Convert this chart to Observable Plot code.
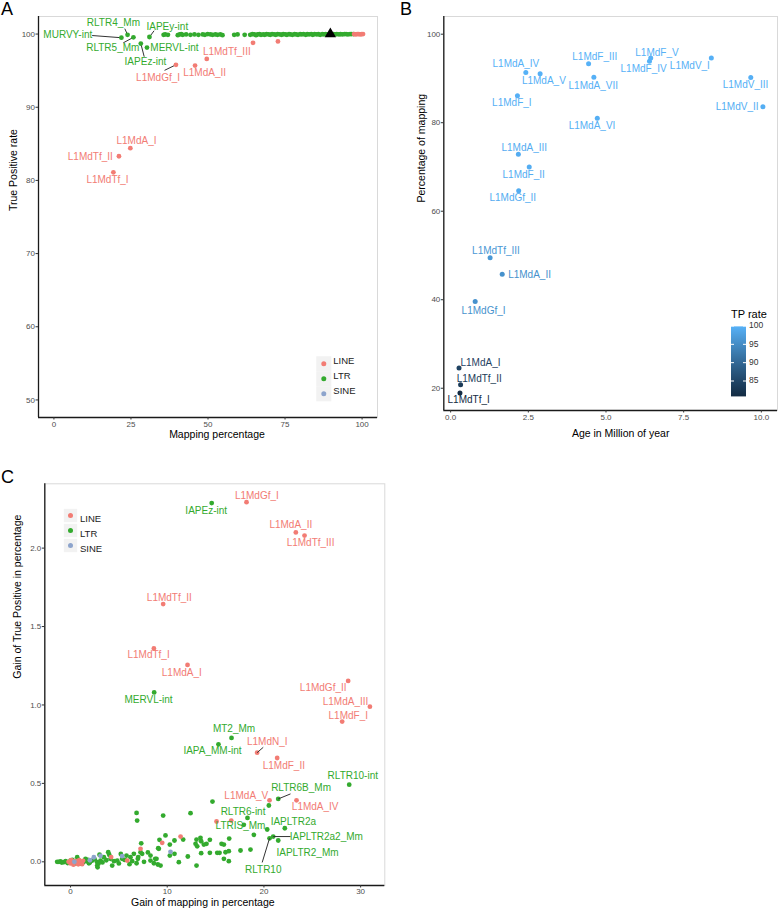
<!DOCTYPE html>
<html><head><meta charset="utf-8">
<script src="https://cdn.jsdelivr.net/npm/d3@7"></script>
<script src="https://cdn.jsdelivr.net/npm/@observablehq/plot@0.6"></script>
<style>
body{margin:0;background:#fff;font-family:"Liberation Sans",Arial,Helvetica,sans-serif;}
#wrap{position:relative;width:778px;height:911px;overflow:hidden;background:#fff;}
.panel{position:absolute;}
.letter{position:absolute;font-size:18px;line-height:18px;color:#000;}
</style></head><body><div id="wrap"></div>
<script>
// ---------------- DATA ----------------
const classes = ["LINE", "LTR", "SINE"];
const classColors = ["#F27C74", "#33AA2E", "#8DA4CC"];

// Panel A: labelled repeats
const aNames = ["MURVY-int","RLTR4_Mm","RLTR5_Mm","IAPEz-int","MERVL-int","IAPEy-int","L1MdGf_I","L1MdA_II","L1MdTf_III","L1MdA_I","L1MdTf_II","L1MdTf_I"];
const aClass = ["LTR","LTR","LTR","LTR","LTR","LTR","LINE","LINE","LINE","LINE","LINE","LINE"];
const aMapping = [21.9,23.9,25.8,28.2,30.2,31.0,39.6,45.8,49.6,24.8,21.1,19.3];
const aTP = [99.5,99.9,99.55,98.7,98.15,99.6,95.8,95.7,96.6,84.4,83.3,81.1];
// Panel A: other LTR points [mapping, TP]
const aLtrOther = [[35.6,99.9],[36.1,99.95],[37.0,99.9],[40.2,99.85],[40.8,99.95],[41.3,100],[41.8,99.9],[42.9,99.95],[44.3,99.9],[45.6,99.95],[46.9,99.9],[48.3,99.95],[49.0,99.9],[49.9,100],[50.8,99.95],[51.5,99.9],[52.4,99.95],[53.1,99.9],[54.0,99.95],[54.7,99.85],[58.5,99.9],[59.6,99.95],[61.9,99.9],[63.7,99.9],[64.4,100],[65.0,99.95],[65.6,99.85],[66.1,99.95],[66.7,100],[67.2,99.9],[67.9,99.95],[68.4,99.9],[69.0,100],[69.7,99.95],[70.2,99.9],[70.8,100],[71.5,99.95],[72.0,99.9],[72.6,100],[73.3,99.95],[73.9,99.9],[74.4,100],[75.1,99.95],[75.6,99.9],[76.3,100],[76.8,99.95],[77.4,99.9],[78.1,100],[78.6,99.95],[79.2,99.9],[79.9,100],[80.4,99.95],[81.0,100],[81.7,99.9],[82.2,100],[82.8,99.95],[83.5,100],[84.0,99.9],[84.6,100],[85.3,99.95],[85.8,100],[86.4,99.9],[87.1,100],[87.6,99.95],[88.2,100],[88.9,99.95],[89.4,100],[90.0,99.95],[90.7,100],[91.2,99.95],[91.8,100],[92.5,99.95],[93.0,100],[93.6,99.95],[94.3,100],[94.8,100],[95.4,99.95],[96.1,100],[96.6,100],[97.2,100]];
// Panel A: other LINE points
const aLineOther = [[64.6,98.8],[72.7,99.0],[97.4,100],[97.9,99.95],[98.4,100],[98.9,100],[99.4,99.95],[99.9,100],[100.3,100]];
// Panel A: highlighted point (triangle)
const aHighlight = [[89.7,100]];

// Panel B: LINE subfamilies
const bNames = ["L1MdA_IV","L1MdA_V","L1MdF_I","L1MdF_III","L1MdA_VII","L1MdA_VI","L1MdF_V","L1MdF_IV","L1MdV_I","L1MdV_III","L1MdV_II","L1MdA_III","L1MdF_II","L1MdGf_II","L1MdTf_III","L1MdA_II","L1MdGf_I","L1MdA_I","L1MdTf_II","L1MdTf_I"];
const bAge = [2.42,2.88,2.15,4.44,4.61,4.72,6.44,6.40,8.39,9.66,10.05,2.18,2.53,2.19,1.27,1.66,0.79,0.27,0.32,0.30];
const bMapping = [91.35,91.05,86.1,93.3,90.3,81.0,94.6,93.9,94.6,90.2,83.6,72.85,70.0,64.6,49.5,45.75,39.6,24.6,20.8,18.9];
const bTP = [99.9,99.8,99.7,99.9,99.8,99.6,99.9,99.9,99.8,99.7,99.5,99.3,99.4,99.2,96.6,95.7,95.8,84.4,83.3,80.8];
const tpTicks = [85,90,95,100];

// Panel C: labelled
const cNames = ["IAPEz-int","L1MdGf_I","L1MdA_II","L1MdTf_III","L1MdTf_II","L1MdTf_I","L1MdA_I","MERVL-int","L1MdGf_II","L1MdA_III","L1MdF_I","MT2_Mm","IAPA_MM-int","L1MdN_I","L1MdF_II","RLTR10-int","RLTR6B_Mm","L1MdA_V","L1MdA_IV","RLTR6-int","LTRIS_Mm","IAPLTR2a","IAPLTR2a2_Mm","RLTR10","IAPLTR2_Mm"];
const cClass = ["LTR","LINE","LINE","LINE","LINE","LINE","LINE","LTR","LINE","LINE","LINE","LTR","LTR","LINE","LINE","LTR","LTR","LINE","LINE","LTR","LTR","LTR","LTR","LTR","LTR"];
const cGainMap = [14.6,18.2,23.3,24.2,9.58,8.62,12.1,8.65,28.71,30.96,28.09,16.65,15.3,19.3,21.37,28.82,21.48,20.58,23.37,18.3,17.92,22.16,20.96,20.58,21.48];
const cGainTP = [2.287,2.293,2.10,2.08,1.643,1.36,1.255,1.08,1.153,0.989,0.894,0.79,0.749,0.696,0.662,0.492,0.401,0.392,0.392,0.28,0.236,0.214,0.161,0.150,0.136];
// Panel C: other points [gain mapping, gain TP]
const cLtrOther = [[20.51,0.359],[14.68,0.384],[12.41,0.310],[9.58,0.295],[6.83,0.312],[6.89,0.263],[20.34,0.206],[18.96,0.172],
[9.20,0.140],[9.82,0.168],[9.07,0.087],[8.76,0.019],[9.03,-0.017],[10.27,0.110],[10.75,0.136],[10.75,0.051],[10.27,0.040],[11.2,-0.002],[11.65,0.142],[12.13,0.034],[12.93,0.115],[13.03,0.142],[13.10,0.099],[13.44,0.153],[13.51,0.131],[13.79,0.110],[13.03,-0.024],[13.51,0.055],[14.41,0.140],[14.41,0.057],[14.06,0.115],[15.17,0.057],[15.41,0.057],[15.62,0.115],[15.86,0.110],[16.03,0.061],[15.86,0.019],[16.41,0.148],[16.37,0.068],[16.37,0.004],[17.58,0.072],[18.61,0.078],
[7.31,0.118],[7.41,0.051],[6.55,0.051],[6.2,0.029],[6.96,0.019],[6.38,0.004],[6.83,-0.009],[8.27,0.040],[8.27,0.008],[8.62,-0.009],[8.89,0.019],[9.13,0.083],[9.31,-0.024],[7.24,0.061],[5.79,0.040],[5.34,0.019],[4.83,0.008],[4.14,0.019],[3.90,0.061],[3.45,0.029],[3.10,0.008],[2.76,-0.002],[2.24,0.008],[1.90,-0.009],[1.55,0.019],[1.31,-0.002],[0.69,0.029],[0.0,0.008],[-0.69,-0.002],[-1.03,0.002],[-1.38,0.0],[4.31,-0.024],[2.76,-0.024],
[-1.2,0.0],[-0.9,-0.005],[-0.5,0.004],[-0.3,-0.008],[0.2,0.012],[0.5,-0.01],[0.9,0.006],[1.1,-0.012],[1.6,0.004],[1.8,0.012],[2.0,-0.004],[2.5,0.015],[2.9,-0.01],[3.3,-0.004],[3.7,0.01],[4.5,0.004],[5.0,-0.01],[5.6,0.012],[6.1,-0.015],[7.6,0.0],[7.0,0.03],[8.0,0.06],[5.2,0.05],[4.0,0.045],[3.0,0.045],[2.8,-0.035]];
const cLineOther = [[15.10,0.257],[16.62,0.263],[11.38,0.161],[9.48,0.121],[7.24,0.083],[5.86,0.008],[4.2,0.03],[-0.2,0.0],[0.0,-0.01],[0.15,0.008],[0.35,-0.005],[0.55,0.004],[0.75,-0.012],[0.9,0.01],[1.1,-0.004],[1.3,0.006],[0.3,-0.018],[0.8,-0.016],[1.2,-0.015],[0.05,0.01]];
const cSineOther = [[10.34,0.064],[2.41,0.029],[3.10,0.038],[5.34,0.036],[2.0,0.01],[0.4,0.0]];

// ---------------- LABEL PLACEMENT (layout, data units) ----------------
const aLabelPos = {"MURVY-int":[4.5,99.86],"RLTR4_Mm":[19.3,101.5],"RLTR5_Mm":[19.1,98.07],"IAPEz-int":[29.7,96.26],"MERVL-int":[39.1,98.15],"IAPEy-int":[36.8,100.99],"L1MdGf_I":[33.8,94.0],"L1MdA_II":[48.9,94.69],"L1MdTf_III":[56.1,97.53],"L1MdA_I":[26.8,85.36],"L1MdTf_II":[11.8,83.2],"L1MdTf_I":[17.4,80.04]};
const aSegEnd = {"MURVY-int":[12.4,99.8],"RLTR4_Mm":[23.0,100.74],"RLTR5_Mm":[22.5,98.8],"IAPEz-int":[29.3,96.9],"IAPEy-int":[32.5,100.45],"L1MdGf_I":[35.9,95.04]};
const bLabelPos = {"L1MdA_IV":[2.10,93.32],"L1MdA_V":[3.00,89.39],"L1MdF_I":[1.97,84.42],"L1MdF_III":[4.64,94.81],"L1MdA_VII":[4.59,88.42],"L1MdA_VI":[4.55,79.32],"L1MdF_V":[6.64,95.87],"L1MdF_IV":[6.21,92.26],"L1MdV_I":[7.70,92.93],"L1MdV_III":[9.49,88.58],"L1MdV_II":[9.22,83.52],"L1MdA_III":[2.37,74.36],"L1MdF_II":[2.35,68.33],"L1MdGf_II":[2.00,63.07],"L1MdTf_III":[1.46,51.02],"L1MdA_II":[2.54,45.69],"L1MdGf_I":[1.06,37.47],"L1MdA_I":[0.96,25.73],"L1MdTf_II":[0.92,22.21],"L1MdTf_I":[0.58,17.47]};
const cLabelPos = {"IAPEz-int":[14.03,2.236],"L1MdGf_I":[19.27,2.333],"L1MdA_II":[22.78,2.148],"L1MdTf_III":[24.82,2.034],"L1MdTf_II":[10.22,1.685],"L1MdTf_I":[8.07,1.320],"L1MdA_I":[11.51,1.204],"MERVL-int":[8.07,1.032],"L1MdGf_II":[26.13,1.112],"L1MdA_III":[28.44,1.023],"L1MdF_I":[28.72,0.934],"MT2_Mm":[16.91,0.845],"IAPA_MM-int":[14.68,0.705],"L1MdN_I":[20.34,0.764],"L1MdF_II":[22.06,0.613],"RLTR10-int":[29.19,0.550],"RLTR6B_Mm":[23.84,0.469],"L1MdA_V":[18.18,0.424],"L1MdA_IV":[25.30,0.352],"RLTR6-int":[17.84,0.318],"LTRIS_Mm":[17.58,0.231],"IAPLTR2a":[23.04,0.255],"IAPLTR2a2_Mm":[26.45,0.157],"IAPLTR2_Mm":[24.51,0.059],"RLTR10":[19.93,-0.051]};
const cSegEnd = {"L1MdN_I":[19.93,0.730],"RLTR6B_Mm":[22.75,0.433],"IAPLTR2a2_Mm":[22.75,0.161],"RLTR10":[19.82,-0.004]};

// ---------------- BUILD ----------------
const FONT = '"Liberation Sans", Arial, Helvetica, sans-serif';
const order = {LTR:0, LINE:1, SINE:2};
const colorCat = {domain: classes, range: classColors};
const tickStyle = {tickSize: 2.5, fontSize: 8, fill: "#4d4d4d", stroke: "#333", label: null};

function axisLines(xd, yd) {
  return [Plot.frame({stroke: "#d9d9d9"}),
          Plot.ruleX([xd[0]], {stroke: "#1a1a1a", strokeWidth: 1.3}),
          Plot.ruleY([yd[0]], {stroke: "#1a1a1a", strokeWidth: 1.3})];
}
function titles(xt, yt, o) {
  return [Plot.text([xt], {text: d => d, frameAnchor: "bottom", dy: o.xdy, dx: o.xdx, fontSize: 10.5, fill: "#000"}),
          Plot.text([yt], {text: d => d, frameAnchor: "left", dx: o.ydx, dy: o.ydy, rotate: -90, fontSize: 10.5, fill: "#000"})];
}
function catLegend(anchor, dx0, dy0, r) {
  return classes.flatMap((c, i) => [
    Plot.dot([c], {frameAnchor: anchor, dx: dx0, dy: dy0 + i * 15, symbol: "square", r: r, fill: "#f2f2f2"}),
    Plot.dot([c], {frameAnchor: anchor, dx: dx0, dy: dy0 + i * 15, r: 2.5, fill: d => d}),
    Plot.text([c], {frameAnchor: anchor, dx: dx0 + 9.5, dy: dy0 + i * 15, text: d => d, textAnchor: "start", fontSize: 9.5, fill: "#222"})
  ]);
}

const wrap = document.getElementById("wrap");
function place(node, left, top) { node.classList.add("panel"); node.style.left = left + "px"; node.style.top = top + "px"; wrap.appendChild(node); }

// ---- Panel A ----
const aTable = [
  ...aNames.map((n, i) => ({name: n, cls: aClass[i], x: aMapping[i], y: aTP[i]})),
  ...aLtrOther.map(([x, y]) => ({cls: "LTR", x, y})),
  ...aLineOther.map(([x, y]) => ({cls: "LINE", x, y}))
].sort((a, b) => order[a.cls] - order[b.cls]);
const aLabels = aNames.map((n, i) => ({name: n, cls: aClass[i], lx: aLabelPos[n][0], ly: aLabelPos[n][1]}));
const aSegs = aNames.filter(n => aSegEnd[n]).map(n => { const i = aNames.indexOf(n); return {x1: aSegEnd[n][0], y1: aSegEnd[n][1], x2: aMapping[i], y2: aTP[i]}; });
const aX = [-5, 105], aY = [47.6, 102.4];
const plotA = Plot.plot({
  width: 389, height: 455, marginLeft: 38, marginRight: 12, marginTop: 16, marginBottom: 38,
  x: {domain: aX}, y: {domain: aY}, color: colorCat,
  style: {fontFamily: FONT, background: "transparent", overflow: "visible"},
  marks: [
    ...axisLines(aX, aY),
    Plot.axisX({ticks: [0, 25, 50, 75, 100], tickPadding: 1, ...tickStyle}),
    Plot.axisY({ticks: [50, 60, 70, 80, 90, 100], tickPadding: 1, ...tickStyle}),
    Plot.link(aSegs, {x1: "x1", y1: "y1", x2: "x2", y2: "y2", stroke: "#333", strokeWidth: 1}),
    Plot.dot(aTable, {x: "x", y: "y", fill: "cls", r: 2.4}),
    Plot.dot(aHighlight, {x: d => d[0], y: d => d[1], symbol: "triangle", fill: "#000", r: 4.2}),
    Plot.text(aLabels, {x: "lx", y: "ly", text: "name", fill: "cls", fontSize: 10}),
    ...catLegend("bottom-right", -53.7, -53.7, 8.5),
    ...titles("Mapping percentage", "True Positive rate", {xdy: 20.5, xdx: 9, ydx: -24.7, ydy: -6})
  ]
});
place(plotA, 0, 0);

// ---- Panel B ----
const bTable = bNames.map((n, i) => ({name: n, age: bAge[i], map: bMapping[i], tp: bTP[i], lx: bLabelPos[n][0], ly: bLabelPos[n][1]}));
const bX = [-0.22, 10.52], bY = [14.97, 104];
const bColor = {type: "linear", domain: d3.extent(bTP), range: ["#132B43", "#56B1F7"], interpolate: "lab"};
const plotB = Plot.plot({
  width: 389, height: 455, marginLeft: 54.3, marginRight: 1, marginTop: 16, marginBottom: 45,
  x: {domain: bX}, y: {domain: bY}, color: bColor,
  style: {fontFamily: FONT, background: "transparent", overflow: "visible"},
  marks: [
    ...axisLines(bX, bY),
    Plot.axisX({ticks: [0, 2.5, 5, 7.5, 10], tickFormat: d3.format(".1f"), tickPadding: 1.5, ...tickStyle}),
    Plot.axisY({ticks: [20, 40, 60, 80, 100], tickPadding: 1, ...tickStyle}),
    Plot.dot(bTable, {x: "age", y: "map", fill: "tp", r: 2.5}),
    Plot.text(bTable, {x: "lx", y: "ly", text: "name", fill: "tp", fontSize: 10}),
    ...titles("Age in Million of year", "Percentage of mapping", {xdy: 26, xdx: 10, ydx: -22, ydy: -11})
  ]
});
place(plotB, 389, 0);

// colour bar for panel B
(function () {
  const sc = plotB.scale("color");
  const lo = d3.min(bTP), hi = d3.max(bTP);
  const f = sc && sc.apply ? v => sc.apply(v) : v => d3.interpolateLab("#132B43", "#56B1F7")((v - lo) / (hi - lo));
  const yv = v => 26 + (100 - v) * 3.667;
  const svg = d3.create("svg").attr("width", 53).attr("height", 105).style("font-family", FONT).style("overflow", "visible");
  const grad = svg.append("defs").append("linearGradient").attr("id", "tpgrad").attr("x1", 0).attr("y1", 0).attr("x2", 0).attr("y2", 1);
  d3.range(0, 1.0001, 0.1).forEach(t => grad.append("stop").attr("offset", t).attr("stop-color", f(hi - t * (hi - lo))));
  svg.append("text").attr("x", 6).attr("y", 15).attr("dominant-baseline", "middle").attr("font-size", 11).attr("fill", "#000").text("TP rate");
  svg.append("rect").attr("x", 6).attr("width", 15).attr("y", yv(hi)).attr("height", yv(lo) - yv(hi)).attr("fill", "url(#tpgrad)");
  tpTicks.forEach(t => {
    svg.append("line").attr("x1", 6).attr("x2", 9).attr("y1", yv(t)).attr("y2", yv(t)).attr("stroke", "#fff").attr("stroke-width", 1);
    svg.append("line").attr("x1", 18).attr("x2", 21).attr("y1", yv(t)).attr("y2", yv(t)).attr("stroke", "#fff").attr("stroke-width", 1);
    svg.append("text").attr("x", 24).attr("y", yv(t)).attr("dominant-baseline", "middle").attr("font-size", 8.5).attr("fill", "#333").text(t);
  });
  place(svg.node(), 725, 300);
})();

// ---- Panel C ----
const cTable = [
  ...cLtrOther.map(([x, y]) => ({cls: "LTR", x, y})),
  ...cNames.map((n, i) => ({name: n, cls: cClass[i], x: cGainMap[i], y: cGainTP[i]})),
  ...cLineOther.map(([x, y]) => ({cls: "LINE", x, y})),
  ...cSineOther.map(([x, y]) => ({cls: "SINE", x, y}))
].sort((a, b) => order[a.cls] - order[b.cls]);
const cLabels = cNames.map((n, i) => ({name: n, cls: cClass[i], lx: cLabelPos[n][0], ly: cLabelPos[n][1]}));
const cSegs = cNames.filter(n => cSegEnd[n]).map(n => { const i = cNames.indexOf(n); return {x1: cSegEnd[n][0], y1: cSegEnd[n][1], x2: cGainMap[i], y2: cGainTP[i]}; });
const cX = [-2.66, 32.5], cY = [-0.151, 2.41];
const plotC = Plot.plot({
  width: 389, height: 456, marginLeft: 44.3, marginRight: 4.7, marginTop: 28.3, marginBottom: 26,
  x: {domain: cX}, y: {domain: cY}, color: colorCat,
  style: {fontFamily: FONT, background: "transparent", overflow: "visible"},
  marks: [
    ...axisLines(cX, cY),
    Plot.axisX({ticks: [0, 10, 20, 30], tickPadding: 0.5, ...tickStyle}),
    Plot.axisY({ticks: [0, 0.5, 1, 1.5, 2], tickFormat: d3.format(".1f"), tickPadding: 1, ...tickStyle}),
    Plot.dot(cTable, {x: "x", y: "y", fill: "cls", r: 2.4}),
    Plot.link(cSegs, {x1: "x1", y1: "y1", x2: "x2", y2: "y2", stroke: "#333", strokeWidth: 1}),
    Plot.text(cLabels, {x: "lx", y: "ly", text: "name", fill: "cls", fontSize: 10}),
    ...catLegend("top-left", 25.7, 31.7, 7.5),
    ...titles("Gain of mapping in percentage", "Gain of True Positive in percentage", {xdy: 20.5, xdx: -12, ydx: -27, ydy: -6})
  ]
});
place(plotC, 0, 455);

// panel letters
[["A", 1, 0], ["B", 400, 0], ["C", 1, 468]].forEach(([t, l, tp]) => {
  const d = document.createElement("div"); d.className = "letter"; d.textContent = t;
  d.style.left = l + "px"; d.style.top = tp + "px"; wrap.appendChild(d);
});
</script></body></html>
